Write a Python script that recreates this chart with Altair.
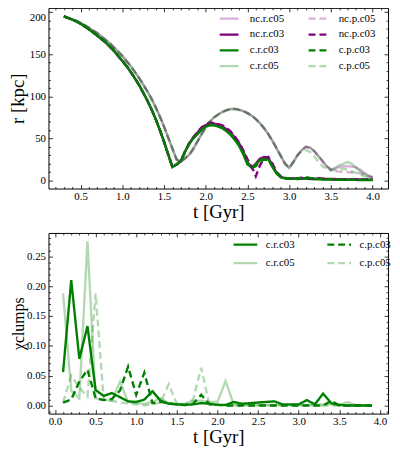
import altair as alt
import pandas as pd

FONT = "Liberation Serif"
W, H = 344, 183

# ---------------- top panel data (t step 0.05 Gyr, 0.30 .. 4.00) ----------------
t_top = [round(0.30 + 0.05 * i, 2) for i in range(75)]

r_nc_r_c05 = [195, 193, 191.5, 189.5, 187, 184.5, 181.5, 178, 175, 171,
              167, 163, 158, 153, 148, 142, 136, 129, 122, 114,
              106, 97, 87, 76, 64, 51, 38, 25, 22, 26,
              30, 37, 46, 55, 63, 70, 75, 78.5, 81.5, 83.5,
              84.8, 85, 84, 82.5, 80, 77, 73, 68, 62, 55,
              47, 38, 29, 20, 15, 22, 30, 36, 40, 39,
              35, 29, 23, 17, 13, 14, 16, 17, 17, 16.5,
              16, 13, 9, 6, 4]
r_nc_p_c05 = [195, 193, 191.5, 189.5, 187, 184.5, 181.5, 178, 175, 171,
              167, 163, 158, 153, 148, 142, 136, 129, 122, 114,
              106, 97, 87, 76, 64, 51, 38, 25, 22, 26,
              30, 37, 46, 55, 63, 70, 75, 78.5, 81.5, 83.5,
              84.8, 85, 84, 82.5, 80, 77, 73, 68, 62, 55,
              47, 38, 29, 20, 15, 22, 30, 36, 40, 39,
              35, 29, 23, 17, 12, 11, 10.5, 10, 10, 9.5,
              9, 8.5, 7, 5, 4]
r_c_r_c05 = [195, 193, 191.5, 189.5, 187, 184.5, 181.5, 178, 175, 171,
             167, 163, 158, 153, 148, 142, 136, 129, 122, 114,
             106, 97, 87, 76, 64, 51, 38, 25, 22.5, 26.5,
             31, 38, 46.5, 55, 63, 70, 75, 78.5, 81.5, 83.5,
             84.8, 85, 84, 82.5, 80, 77, 73, 68, 62, 55,
             47, 38, 29, 20, 15, 22, 30, 36, 40, 39,
             35, 29, 23, 17, 13, 15, 18, 20, 22, 20,
             15, 11, 8, 5, 3]
r_c_p_c05 = [195, 193, 191.5, 189.5, 187, 184.5, 181.5, 178, 175, 171,
             167, 163, 158, 153, 148, 142, 136, 129, 122, 114,
             106, 97, 87, 76, 64, 51, 38, 25, 22.5, 26.5,
             31, 38, 46.5, 55, 63, 70, 75, 78.5, 81.5, 83.5,
             84.8, 85, 84, 82.5, 80, 77, 73, 68, 62, 55,
             47, 38, 29, 20, 15, 22, 30, 35, 36, 34,
             29, 22, 17, 14, 12, 12, 13, 14, 13, 11,
             9, 7, 5, 4, 3]
r_c_r_c03 = [195, 193, 191, 189, 186, 183, 179.5, 176, 172, 168,
             164, 159, 154, 148, 142, 136, 129, 121.5, 113.5, 104.5,
             95, 84.5, 73, 60, 46, 31, 16, 19, 23, 34,
             43, 50, 55, 60, 64, 65.5, 65.5, 64, 62, 58.5,
             54, 48, 41, 31, 19, 16, 19, 24, 26.5, 25,
             16, 8, 4, 2.5, 2, 2, 1.8, 2, 2.2, 1.8,
             1.5, 1.5, 1.2, 1.2, 1.0, 1.0, 0.8, 0.8, 0.8, 0.7,
             0.7, 0.6, 0.6, 0.6, 0.5]
r_nc_r_c03 = [195, 193, 191, 189, 186, 183, 179.5, 176, 172, 168,
              164, 159, 154, 148, 142, 136, 129, 121.5, 113.5, 104.5,
              95, 84.5, 73, 60, 46, 31, 16, 19, 23, 34,
              44, 51, 57, 62, 66, 67.5, 67.5, 66.5, 64, 61,
              56.5, 51, 44, 35, 22, 15, 20, 26, 28, 27,
              18, 9, 4, 3, 2.5, 2.5, 2.2, 2.5, 2.8, 2.5,
              2.2, 2, 2, 1.8, 1.6, 1.5, 1.5, 1.4, 1.3, 1.3,
              1.2, 1.2, 1.1, 1.1, 1.0]
r_nc_p_c03 = [195, 193, 191, 189, 186, 183, 179.5, 176, 172, 168,
              164, 159, 154, 148, 142, 136, 129, 121.5, 113.5, 104.5,
              95, 84.5, 73, 60, 46, 31, 16, 19, 23, 34,
              44, 51, 57.5, 63, 67, 69, 68, 67, 65.5, 62.5,
              58, 52, 45, 36, 25, 17, 5, 18, 27, 28,
              20, 10, 5, 3, 2.5, 2.5, 2.8, 3, 2.5, 2.2,
              2.5, 2.8, 2.2, 2, 1.8, 1.8, 1.6, 1.5, 1.5, 1.4,
              1.4, 1.3, 1.3, 1.2, 1.2]
r_c_p_c03 = [195, 193, 191, 189, 186, 183, 179.5, 176, 172, 168,
             164, 159, 154, 148, 142, 136, 129, 121.5, 113.5, 104.5,
             95, 84.5, 73, 60, 46, 31, 16, 19, 23, 34,
             43, 50, 55.5, 60.5, 64.5, 66, 66, 65, 62.5, 59,
             55, 49, 42, 33, 21, 15, 17, 22, 25, 24,
             17, 9, 4.5, 3, 2.5, 2.2, 2.5, 3.5, 4, 3,
             2.2, 2, 1.8, 2, 1.5, 1.2, 1.2, 1.0, 1.0, 0.9,
             0.9, 0.8, 0.8, 0.7, 0.7]

# ---------------- bottom panel data (t step 0.1 Gyr, 0.1 .. 3.9) ----------------
t_bot = [round(0.1 * i, 1) for i in range(1, 40)]

x_c_r_c03 = [0.056, 0.210, 0.078, 0.133, 0.026, 0.016, 0.021, 0.014, 0.007, 0.006,
             0.010, 0.024, 0.008, 0.003, 0.002, 0.001, 0.002, 0.004, 0.003, 0.001,
             0.001, 0.006, 0.003, 0.004, 0.005, 0.006, 0.007, 0.002, 0.002, 0.002,
             0.009, 0.002, 0.020, 0.004, 0.001, 0.000, 0.000, 0.000, 0.000]
x_c_r_c05 = [0.188, 0.025, 0.012, 0.275, 0.012, 0.010, 0.008, 0.040, 0.006, 0.004,
             0.003, 0.006, 0.012, 0.004, 0.002, 0.003, 0.008, 0.008, 0.006, 0.006,
             0.041, 0.002, 0.001, 0.001, 0.001, 0.001, 0.001, 0.001, 0.001, 0.001,
             0.001, 0.001, 0.002, 0.002, 0.001, 0.006, 0.001, 0.000, 0.000]
x_c_p_c03 = [0.005, 0.010, 0.040, 0.060, 0.012, 0.009, 0.011, 0.025, 0.065, 0.018,
             0.055, 0.004, 0.006, 0.004, 0.002, 0.001, 0.003, 0.018, 0.002, 0.001,
             0.000, 0.000, 0.000, 0.000, 0.000, 0.000, 0.000, 0.000, 0.000, 0.000,
             0.000, 0.000, 0.000, 0.008, 0.000, 0.000, 0.000, 0.000, 0.000]
x_c_p_c05 = [0.005, 0.050, 0.030, 0.015, 0.188, 0.010, 0.008, 0.005, 0.003, 0.002,
             0.000, 0.002, 0.005, 0.036, 0.003, 0.000, 0.010, 0.063, 0.002, 0.001,
             0.000, 0.000, 0.000, 0.000, 0.000, 0.000, 0.000, 0.000, 0.000, 0.000,
             0.000, 0.000, 0.000, 0.000, 0.000, 0.000, 0.000, 0.000, 0.000]

# ---------------- ticks ----------------
x_major_top = [0.5, 1.0, 1.5, 2.0, 2.5, 3.0, 3.5, 4.0]
y_major_top = [0, 50, 100, 150, 200]
x_minor_top = [round(0.1 * i, 1) for i in range(2, 42) if i % 5 != 0]
y_minor_top = [10 * i for i in range(1, 21) if i % 5 != 0]
x_major_bot = [0.0, 0.5, 1.0, 1.5, 2.0, 2.5, 3.0, 3.5, 4.0]
y_major_bot = [0.0, 0.05, 0.10, 0.15, 0.20, 0.25]
x_minor_bot = [round(0.1 * i, 1) for i in range(1, 42) if i % 5 != 0]
y_minor_bot = [round(0.01 * i, 2) for i in range(-1, 29) if i % 5 != 0]

PURPLE = "#800080"
GREEN = "#008000"
SOLID = [1, 0]
DASH = [7, 4]

top_series = [("nc.r.c05", r_nc_r_c05), ("nc.r.c03", r_nc_r_c03), ("c.r.c03", r_c_r_c03),
              ("c.r.c05", r_c_r_c05), ("nc.p.c05", r_nc_p_c05), ("nc.p.c03", r_nc_p_c03),
              ("c.p.c03", r_c_p_c03), ("c.p.c05", r_c_p_c05)]
rows = []
for name, vals in top_series:
    for t, v in zip(t_top, vals):
        rows.append({"t": t, "r": v, "series": name})
df_top = pd.DataFrame(rows)

bot_series = [("c.r.c03", x_c_r_c03), ("c.r.c05", x_c_r_c05),
              ("c.p.c03", x_c_p_c03), ("c.p.c05", x_c_p_c05)]
rows = []
for name, vals in bot_series:
    for t, v in zip(t_bot, vals):
        rows.append({"t": t, "chi": v, "series": name})
df_bot = pd.DataFrame(rows)

# legend order (legend columns fill top-to-bottom)
top_order = ["nc.r.c05", "nc.r.c03", "c.r.c03", "c.r.c05", "nc.p.c05", "nc.p.c03", "c.p.c03", "c.p.c05"]
top_colors = [PURPLE, PURPLE, GREEN, GREEN, PURPLE, PURPLE, GREEN, GREEN]
top_dash = [SOLID, SOLID, SOLID, SOLID, DASH, DASH, DASH, DASH]
top_op = [0.3, 1, 1, 0.3, 0.3, 1, 1, 0.3]

bot_order = ["c.r.c03", "c.r.c05", "c.p.c03", "c.p.c05"]
bot_colors = [GREEN, GREEN, GREEN, GREEN]
bot_dash = [SOLID, SOLID, DASH, DASH]
bot_op = [1, 0.3, 1, 0.3]


def make_legend(x, y, colpad, rowpad, symsize, laboff):
    return alt.Legend(title=None, orient="none", legendX=x, legendY=y, columns=2,
                      symbolType="stroke", symbolSize=symsize, symbolStrokeWidth=2.3,
                      labelFont=FONT, labelFontSize=11, labelColor="black",
                      labelOffset=laboff, columnPadding=colpad, rowPadding=rowpad,
                      padding=0, labelLimit=200)


def tick_layers(df, xf, yf, xs, ys, xmaj, xmin, ymaj, ymin):
    base = alt.Chart(df).mark_point(opacity=0, size=1)
    out = []
    for vals, size in ((xmaj, 4), (xmin, 2)):
        for orient in ("top", "bottom"):
            out.append(base.encode(
                x=alt.X(xf, scale=xs, axis=alt.Axis(orient=orient, offset=-H, values=vals,
                                                    labels=False, title=None, domain=False,
                                                    grid=False, tickSize=size,
                                                    tickColor="black", tickWidth=0.8)),
                y=alt.Y(yf, scale=ys, axis=None)))
    for vals, size in ((ymaj, 4), (ymin, 2)):
        for orient in ("left", "right"):
            out.append(base.encode(
                x=alt.X(xf, scale=xs, axis=None),
                y=alt.Y(yf, scale=ys, axis=alt.Axis(orient=orient, offset=-W, values=vals,
                                                    labels=False, title=None, domain=False,
                                                    grid=False, tickSize=size,
                                                    tickColor="black", tickWidth=0.8))))
    return out


# ---------------- top panel ----------------
xs_top = alt.Scale(domain=[0.115, 4.185], nice=False, zero=False)
ys_top = alt.Scale(domain=[-9.5, 205], nice=False, zero=False)
leg_top = make_legend(172, 0, 19, 0, 361, 10)

lines_top = alt.Chart(df_top).mark_line(strokeWidth=2.4).encode(
    x=alt.X("t:Q", scale=xs_top,
            axis=alt.Axis(title="t [Gyr]", values=x_major_top, format=".1f", ticks=False,
                          tickSize=0, domain=False, grid=False, labelPadding=2, titleY=14,
                          labelFont=FONT, labelFontSize=11, titleFont=FONT, titleFontSize=19)),
    y=alt.Y("r:Q", scale=ys_top,
            axis=alt.Axis(title="r [kpc]", values=y_major_top, ticks=False, tickSize=0,
                          domain=False, grid=False, labelPadding=3, titleX=-21, labelFlush=7,
                          labelFont=FONT, labelFontSize=11, titleFont=FONT, titleFontSize=19)),
    color=alt.Color("series:N", scale=alt.Scale(domain=top_order, range=top_colors), legend=leg_top),
    strokeDash=alt.StrokeDash("series:N", scale=alt.Scale(domain=top_order, range=top_dash), legend=leg_top),
    opacity=alt.Opacity("series:N", scale=alt.Scale(type="ordinal", domain=top_order, range=top_op),
                        legend=leg_top),
)
top = alt.layer(lines_top, *tick_layers(df_top, "t:Q", "r:Q", xs_top, ys_top,
                                         x_major_top, x_minor_top, y_major_top, y_minor_top)
                ).resolve_axis(x="independent", y="independent").properties(width=W, height=H)

# ---------------- bottom panel ----------------
xs_bot = alt.Scale(domain=[-0.08, 4.1], nice=False, zero=False)
ys_bot = alt.Scale(domain=[-0.0135, 0.289], nice=False, zero=False)
leg_bot = make_legend(186, -2, 27, -2, 576, 7)

lines_bot = alt.Chart(df_bot).mark_line(strokeWidth=2.4).encode(
    x=alt.X("t:Q", scale=xs_bot,
            axis=alt.Axis(title="t [Gyr]", values=x_major_bot, format=".1f", ticks=False,
                          tickSize=0, domain=False, grid=False, labelPadding=2, titleY=14,
                          labelFont=FONT, labelFontSize=11, titleFont=FONT, titleFontSize=19)),
    y=alt.Y("chi:Q", scale=ys_bot,
            axis=alt.Axis(title="χclumps", values=y_major_bot, format=".2f", ticks=False,
                          tickSize=0, domain=False, grid=False, labelPadding=3, titleX=-22,
                          labelFont=FONT, labelFontSize=11, titleFont=FONT, titleFontSize=16)),
    color=alt.Color("series:N", scale=alt.Scale(domain=bot_order, range=bot_colors), legend=leg_bot),
    strokeDash=alt.StrokeDash("series:N", scale=alt.Scale(domain=bot_order, range=bot_dash), legend=leg_bot),
    opacity=alt.Opacity("series:N", scale=alt.Scale(type="ordinal", domain=bot_order, range=bot_op),
                        legend=leg_bot),
)
bottom = alt.layer(lines_bot, *tick_layers(df_bot, "t:Q", "chi:Q", xs_bot, ys_bot,
                                            x_major_bot, x_minor_bot, y_major_bot, y_minor_bot)
                   ).resolve_axis(x="independent", y="independent").properties(width=W, height=H)

chart = alt.vconcat(top, bottom, spacing=45, bounds="flush").resolve_scale(
    color="independent", strokeDash="independent", opacity="independent"
).resolve_legend(
    color="independent", strokeDash="independent", opacity="independent"
).properties(
    padding={"left": 0, "top": -4, "right": 0, "bottom": 0}
).configure_view(stroke="black", strokeWidth=1).configure_axis(
    labelFont=FONT, labelFontSize=11, labelColor="black",
    titleFont=FONT, titleFontSize=19, titleFontWeight="normal", titleColor="black"
).configure_legend(labelFont=FONT)

chart.save("out.html", embed_options={"renderer": "svg", "actions": False})
